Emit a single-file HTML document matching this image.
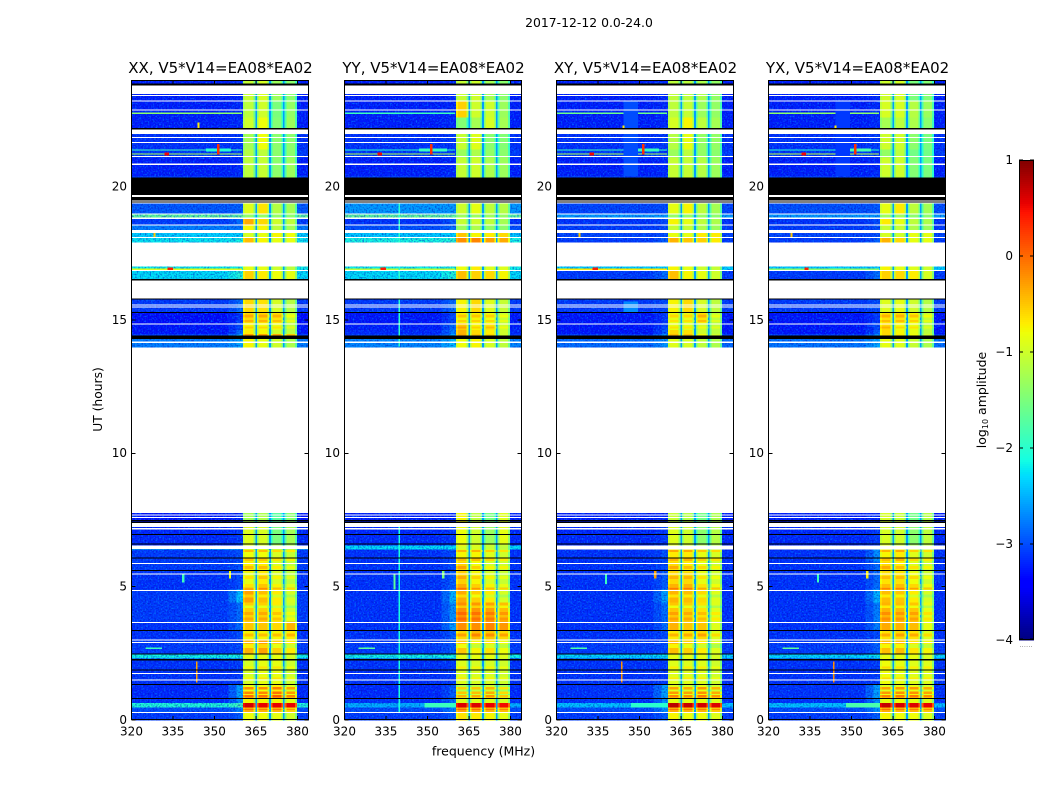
<!DOCTYPE html>
<html lang="en">
<head>
<meta charset="utf-8">
<title>2017-12-12 amplitude waterfall</title>
<style>
html,body{margin:0;padding:0;background:#fff;}
svg{display:block;}
text{font-family:"DejaVu Sans","Liberation Sans",sans-serif;fill:#000;}
</style>
</head>
<body>
<svg id="figure" xmlns="http://www.w3.org/2000/svg" width="1050" height="800" viewBox="0 0 1050 800">
<defs>
<filter id="speck" x="0" y="0" width="1" height="1" color-interpolation-filters="sRGB">
<feTurbulence type="fractalNoise" baseFrequency="0.62" numOctaves="1" seed="4" result="n"/>
<feColorMatrix in="n" type="matrix" values="0 0 0 0 0  0 0 0 0 0.6  0 0 0 0 1  2.0 0 0 0 -0.95" result="a"/>
<feComposite in="a" in2="SourceAlpha" operator="in" result="b"/>
<feColorMatrix in="n" type="matrix" values="0 0 0 0 0  0 0 0 0 0.02  0 0 0 0 0.72  0 1.6 0 0 -0.72" result="c"/>
<feComposite in="c" in2="SourceAlpha" operator="in" result="d"/>
<feMerge><feMergeNode in="SourceGraphic"/><feMergeNode in="b"/><feMergeNode in="d"/></feMerge>
</filter>
</defs>
<text x="589" y="27" font-size="12.4" text-anchor="middle">2017-12-12 0.0-24.0</text>
<text x="483.5" y="755.5" font-size="12.5" text-anchor="middle">frequency (MHz)</text>
<text transform="translate(102,399.5) rotate(-90)" font-size="12.3" text-anchor="middle">UT (hours)</text>
<text transform="translate(986,400) rotate(-90)" font-size="12.5" text-anchor="middle">log<tspan font-size="8" dy="2">10</tspan><tspan dy="-2"> amplitude</tspan></text>
<text x="1026" y="647" font-size="7" fill="#888" text-anchor="middle" style="fill:#888">......</text>
</svg>
<script>
const panelTitles = ["XX, V5*V14=EA08*EA02","YY, V5*V14=EA08*EA02","XY, V5*V14=EA08*EA02","YX, V5*V14=EA08*EA02"];
const xTicks = [320,335,350,365,380];
const yTicks = [0,5,10,15,20];
const colorbarTicks = [1,0,-1,-2,-3,-4];

// Frequency bins (MHz) and which level column each uses: 0 bg, 1 ramp, 2-5 sub-bands, 6 notch
const freqEdges = [320,352,355,358,360.3,361,364.2,364.8,365.4,366,369.1,369.7,370.4,371,374.2,374.8,375.4,376,379.2,379.8,384];
const freqColumn = [0,0,1,1,2,2,2,6,3,3,3,6,4,4,4,6,5,5,5,0];
const freqOffset = [0,0,0.4,0.9,-0.15,0,-0.5,0,-0.5,0,-0.5,0,-0.5,0,-0.5,0,-0.5,0,-0.5,0];
const notchLevel = -2.6;

// Time blocks (hours)
const blockTop =    [24,23.2,22.6,22.14,21.4,21.1,20.4,19.4,18.96,18.84,18.56,18.3,18.1,17.0,16.84,15.8,15.3,14.88,14.62,14.48,14.4,14.3,7.76,7.25,6.6,6.54,6.4,5.95,5.55,4.9,4.4,3.7,3.36,3.0,2.5,2.3,1.35,0.83,0.63,0.46,0.28];
const blockBottom = [23.2,22.6,22.14,21.4,21.1,20.4,19.4,18.96,18.84,18.56,18.3,18.1,17.9,16.84,16.5,15.3,14.88,14.62,14.48,14.4,14.3,13.96,7.25,6.6,6.54,6.4,5.95,5.55,4.9,4.4,3.7,3.36,3.0,2.5,2.3,1.35,0.83,0.63,0.46,0.28,0];

// Each row: [background, ramp, band1, band2, band3, band4]
const levelsXX = [
[-3.25,-3.2,-1.05,-.95,-1.3,-1.4],[-3.25,-3.2,-1.1,-1.0,-1.5,-1.35],[-3.25,-3.2,-1.0,-.8,-1.45,-1.3],
[-3.15,-3.1,-1.25,-.8,-1.4,-1.4],[-3.1,-3.1,-1.15,-1.1,-1.4,-1.4],[-3.25,-3.2,-1.1,-1.05,-1.4,-1.3],
[-3.1,-3.1,-1.1,-1,-1.3,-1.3],[-2.95,-2.9,-.9,-.65,-1.15,-1.25],[-1.65,-1.65,-1.35,-1.35,-1.35,-1.4],
[-3.1,-2.8,-.35,-.6,-1.0,-1.1],[-2.75,-2.8,-.75,-.75,-1.1,-1.25],[-2.3,-2.3,-.95,-.85,-.75,-.8],[-2.2,-2.1,-.45,-.75,-.85,-.85],
[-2.15,-2.1,-.85,-.85,-1.0,-1.1],[-2.25,-2.0,-.55,-.7,-.8,-.85],
[-3.1,-2.8,-.6,-.65,-.95,-1.15],[-3.35,-3.1,-.6,-.6,-.65,-1.05],[-3.3,-3.0,-.75,-.8,-.85,-1.1],
[-3.3,-2.8,-.7,-.75,-1.0,-1.1],[-3.1,-2.4,-.3,-.3,-.35,-.5],[-3.1,-2.9,-.85,-.85,-1.1,-1.1],[-2.75,-2.5,-.75,-.85,-1.0,-1.2],
[-3.3,-3.2,-1.25,-1.2,-1.7,-1.4],[-3.2,-3.1,-.9,-.95,-1.5,-1.25],[-3.2,-3.1,-.9,-.95,-1.2,-1.2],
[-2.25,-2.25,-1,-1,-1.1,-1.2],[-3.1,-3.0,-.8,-.8,-.95,-1.05],[-3.1,-3.0,-.7,-.7,-.95,-1.1],
[-3.15,-3.0,-.85,-.7,-.95,-1.1],[-3.1,-2.3,-.3,-.45,-.7,-.95],[-3.1,-2.8,-.55,-.55,-.7,-1.0],[-3.15,-2.8,-.5,-.5,-.6,-.4],
[-3.15,-3.0,-.75,-.75,-.75,-.7],[-3.1,-3.0,-.4,-.3,-.55,-.7],[-2.15,-2.1,-.85,-.85,-.85,-.95],[-3.15,-3.1,-.95,-.85,-.85,-1.0],
[-3.2,-2.5,-.5,-.5,-.4,-.6],[-3.15,-2.6,-.75,-.75,-.75,-.85],[-2.05,-1.8,.65,.55,.55,.55],[-3.0,-2.7,-.35,-.4,-.4,-.55],[-3.1,-2.9,-.8,-.8,-.85,-1.0]
];
const levelsYY = [
[-3.25,-3.2,-1.05,-1.0,-1.25,-1.4],[-3.25,-3.2,-.55,-1.0,-1.0,-1.3],[-3.25,-3.2,-1.45,-1.25,-.95,-1.25],
[-3.15,-3.1,-1.05,-.9,-1.4,-1.45],[-3.1,-3.1,-1.3,-1.2,-1.35,-1.4],[-3.25,-3.2,-1.05,-1.0,-1.2,-1.3],
[-3.1,-3.1,-1.05,-1,-1.2,-1.3],[-2.6,-2.6,-1,-.85,-1.1,-1.15],[-1.65,-1.65,-1.3,-1.3,-1.3,-1.35],
[-3.15,-2.9,-1.05,-1.0,-1.1,-1.25],[-3.0,-2.8,-1.3,-1.2,-1.35,-1.4],[-2.35,-2.3,-.5,-.75,-.7,-.6],[-2.1,-2.0,-.2,-.15,-.3,-.35],
[-2.15,-2.1,-.8,-.7,-.9,-.9],[-2.25,-2.0,-.45,-.55,-.6,-.75],
[-3.1,-2.8,-.75,-.6,-.9,-1.05],[-3.3,-3.0,-.75,-.75,-.8,-1.05],[-3.25,-2.8,-.5,-.75,-.65,-1.0],
[-3.2,-2.7,-.4,-.6,-.7,-1.0],[-3.1,-2.5,-.35,-.5,-.6,-1.0],[-3.1,-2.9,-.85,-.85,-1.1,-1.1],[-2.7,-2.4,-.8,-.75,-.95,-1.1],
[-3.25,-3.2,-.75,-1.1,-1.5,-.9],[-3.2,-3.1,-.8,-1.0,-1.3,-.85],[-3.2,-3.1,-.7,-.85,-1.0,-1.0],
[-2.25,-2.25,-.95,-.95,-1.05,-1.1],[-3.15,-3.0,-.75,-.75,-.9,-1.0],[-3.15,-3.0,-.55,-.8,-1.0,-1.0],
[-3.15,-2.9,-.55,-.75,-.95,-1.05],[-3.15,-2.4,-.35,-.55,-.7,-.95],[-3.15,-2.6,-.2,-.25,-.3,-.45],[-3.15,-2.5,-.2,-.2,-.15,-.25],
[-3.15,-2.9,-.6,-.45,-.5,-.6],[-3.1,-2.9,-.5,-.75,-.65,-.8],[-2.15,-2.1,-.85,-.85,-.85,-.9],[-3.15,-3.1,-.9,-.95,-.95,-1.0],
[-3.2,-2.9,-.85,-.8,-.7,-.95],[-3.15,-2.8,-.9,-.9,-.9,-.95],[-2.5,-1.9,.6,.6,.55,.5],[-3.0,-2.7,-.3,-.35,-.4,-.45],[-3.1,-2.9,-.65,-.7,-.75,-.85]
];
const levelsXY = [
[-3.25,-3.2,-1.1,-1.1,-1.2,-1.35],[-3.25,-3.2,-1.1,-1.05,-1.3,-1.35],[-3.25,-3.2,-.95,-.75,-1.1,-1.25],
[-3.15,-3.1,-1.15,-.85,-1.35,-1.35],[-3.1,-3.1,-1.3,-1.1,-1.35,-1.4],[-3.25,-3.2,-1.05,-1.05,-1.15,-1.3],
[-3.1,-3.1,-1.05,-1,-1.2,-1.3],[-3.05,-3.0,-.85,-.75,-1.1,-1.25],[-2.6,-2.6,-1.35,-1.35,-1.35,-1.4],
[-3.15,-3.0,-.75,-.85,-1.1,-1.2],[-3.1,-3.0,-1.05,-1.05,-1.2,-1.3],[-3.05,-3.0,-.85,-.85,-.7,-.7],[-3.1,-2.9,-.4,-.5,-.55,-.7],
[-2.3,-2.3,-.75,-.85,-1.0,-1.05],[-3.1,-2.8,-.45,-.75,-.85,-1.0],
[-3.1,-3.0,-.75,-.6,-.95,-1.1],[-3.3,-3.1,-.85,-.85,-.65,-1.1],[-3.3,-3.0,-.85,-.9,-1.0,-1.1],
[-3.3,-2.9,-.6,-.65,-1.0,-1.1],[-3.1,-2.6,-.45,-.5,-.8,-1.0],[-3.1,-2.9,-.85,-.85,-1.1,-1.1],[-2.85,-2.6,-.9,-.95,-1.1,-1.2],
[-3.25,-3.2,-1.05,-1.15,-1.55,-1.2],[-3.2,-3.1,-.9,-1.0,-1.4,-1.15],[-3.2,-3.1,-.9,-1.0,-1.2,-1.15],
[-3.15,-3.1,-1,-1,-1.1,-1.2],[-3.15,-3.0,-.7,-.7,-.85,-.95],[-3.15,-3.0,-.6,-.7,-.85,-1.0],
[-3.15,-2.9,-.6,-.6,-.85,-1.0],[-3.15,-2.5,-.4,-.45,-.6,-.9],[-3.15,-2.8,-.5,-.55,-.65,-.9],[-3.15,-2.8,-.4,-.5,-.5,-.9],
[-3.15,-3.0,-.7,-.65,-.6,-.9],[-3.1,-3.0,-.45,-.55,-.7,-.9],[-2.3,-2.2,-.85,-.85,-.85,-.95],[-3.15,-3.1,-.9,-.9,-.9,-1.0],
[-3.15,-2.5,-.6,-.65,-.55,-.7],[-3.15,-2.6,-.85,-.85,-.85,-.9],[-2.4,-1.9,.75,.7,.65,.6],[-3.0,-2.6,-.35,-.4,-.4,-.5],[-3.1,-2.9,-.75,-.8,-.8,-.9]
];
const levelsYX = [
[-3.25,-3.2,-1.0,-.95,-1.5,-1.45],[-3.25,-3.2,-.95,-.95,-1.15,-1.3],[-3.25,-3.2,-1.25,-1.1,-1.2,-1.4],
[-3.15,-3.1,-1.0,-1.0,-1.4,-1.5],[-3.1,-3.1,-1.35,-1.1,-1.55,-1.55],[-3.25,-3.2,-1.0,-1.0,-1.45,-1.5],
[-3.1,-3.1,-1.1,-1.05,-1.5,-1.5],[-3.0,-2.95,-.85,-.7,-1.1,-1.25],[-2.6,-2.6,-1.3,-1.3,-1.4,-1.4],
[-3.15,-3.0,-.7,-.85,-1.1,-1.2],[-3.1,-3.0,-1.05,-1.05,-1.2,-1.3],[-3.05,-3.0,-.95,-1.0,-.85,-.85],[-3.1,-2.9,-.4,-.6,-.85,-.85],
[-2.3,-2.3,-.75,-.85,-.9,-1.0],[-3.1,-2.8,-.55,-.6,-.7,-.95],
[-3.1,-3.0,-.9,-.85,-1.0,-1.15],[-3.3,-3.1,-.65,-.65,-.75,-1.05],[-3.3,-3.0,-.6,-.8,-.85,-1.1],
[-3.3,-2.9,-.6,-.75,-.85,-1.1],[-3.1,-2.6,-.6,-.7,-.8,-1.0],[-3.1,-2.9,-.85,-.85,-1.1,-1.1],[-2.8,-2.5,-.85,-.9,-1.05,-1.2],
[-3.25,-3.2,-.95,-1.05,-1.55,-1.15],[-3.2,-3.1,-.95,-1.0,-1.4,-1.1],[-3.2,-3.1,-.9,-1.0,-1.25,-1.1],
[-3.15,-3.0,-1,-1,-1.1,-1.2],[-3.15,-2.6,-.75,-.7,-.9,-1.0],[-3.15,-2.8,-.6,-.7,-.9,-1.0],
[-3.15,-2.8,-.65,-.65,-.8,-1.0],[-3.15,-2.4,-.45,-.5,-.7,-.95],[-3.15,-2.7,-.4,-.45,-.5,-.85],[-3.15,-2.7,-.35,-.4,-.45,-.85],
[-3.15,-3.0,-.65,-.6,-.65,-.9],[-3.1,-2.9,-.45,-.45,-.65,-.75],[-2.3,-2.2,-.85,-.85,-.85,-.95],[-3.15,-3.1,-.8,-.85,-.9,-.9],
[-3.15,-2.5,-.6,-.55,-.55,-.65],[-3.15,-2.6,-.85,-.8,-.85,-.9],[-2.4,-1.8,.7,.65,.6,.55],[-3.0,-2.6,-.35,-.4,-.4,-.5],[-3.1,-2.9,-.75,-.8,-.8,-.9]
];
const panelLevels = [levelsXX, levelsYY, levelsXY, levelsYX];

// Horizontal stripes inside the bright band: [top hour, bottom hour, change in log amplitude]
const bandStripes = [
[15.2,15.1,.25],[15.0,14.94,.2],[14.75,14.7,.2],
[6.38,6.32,.35],[6.05,5.98,.3],[5.78,5.68,.25],[5.4,5.3,.2],[5.1,5.0,.2],[4.96,4.9,.5],
[4.7,4.6,-.25],[4.3,4.22,-.3],[4.05,3.95,.2],[3.85,3.75,.2],[3.25,3.15,.3],[2.85,2.72,-.3],
[2.0,1.95,.2],[1.6,1.55,.2],[1.31,1.23,-.3],[1.23,1.15,.3],[1.15,1.06,-.3],[1.06,.98,.35],[.98,.93,-.2],[.93,.85,.45],[.42,.38,.3]
];

// Flagged rows drawn white / black, as [top hour, bottom hour]
const whiteRows = [[23.786,23.475],[23.44,23.4],[23.23,23.186],[22.894,22.856],[22.144,21.975],[21.863,21.825],[21.675,21.638],[21.15,21.11],[20.869,20.813],[19.688,19.613],[19.474,19.36],[18.994,18.956],[18.844,18.788],[18.581,18.544],[18.375,18.263],[18.113,18.075],[16.875,16.845],[15.589,15.551],[15.499,15.461],[14.876,14.839],[14.186,14.138],[7.699,7.661],[7.613,7.575],[7.388,7.238],[7.2,7.151],[5.888,5.85],[5.486,5.449],[4.875,4.838],[3.675,3.638],[3.026,2.989],[2.925,2.888],[1.763,1.725],[1.526,1.489],[0.3,0.263]];
const blackRows = [[23.876,23.786],[22.2,22.144],[20.336,19.688],[19.613,19.474],[19.44,19.41],[16.538,16.474],[15.799,15.761],[15.3,15.27],[14.411,14.288],[7.5,7.451],[7.425,7.388],[6.975,6.938],[6.626,6.589],[6.101,6.064],[5.625,5.588],[3.375,3.338],[2.501,2.464],[2.288,2.224],[1.901,1.864],[1.35,1.313],[0.825,0.788]];
const emptyRows = [[17.9,17.0],[16.474,15.799],[13.96,7.76]];
// Panel-only white rows [panel, top, bottom]
const panelWhiteRows = [[0,6.54,6.41],[2,6.54,6.4],[3,6.54,6.4]];

// Narrow features: [panel, top hour, bottom hour, start MHz, end MHz, log amplitude]
const features = [
[0,22.79,22.73,320,360,-1.4],[1,22.79,22.73,320,360,-1.9],[2,22.79,22.73,320,360,-1.6],[3,22.79,22.73,320,360,-1.4],
[0,21.4,21.35,320,360,-1.9],[1,21.4,21.35,320,360,-2.0],[2,21.4,21.35,320,360,-1.9],[3,21.4,21.35,320,360,-2.0],
[0,21.25,21.2,320,360,-1.2],[1,21.25,21.2,320,360,-1.2],[2,21.25,21.2,320,360,-1.2],[3,21.25,21.2,320,360,-1.1],
[0,21.44,21.32,347,356,-2.0],[1,21.44,21.32,347,357,-1.9],[2,21.44,21.32,347,357,-1.9],[3,21.44,21.32,346,357,-1.8],
[0,21.6,21.2,351,351.9,.3],[1,21.6,21.2,351,351.9,.3],[2,21.6,21.2,351,351.9,.3],[3,21.6,21.2,351,351.9,.3],
[0,21.28,21.16,332,333.5,.5],[1,21.28,21.16,332,333.5,.5],[2,21.28,21.16,332,333.5,.5],[3,21.28,21.16,332,333.5,.5],
[0,16.94,16.87,320,360,-.9],[1,16.94,16.87,320,360,-1.1],[2,16.94,16.87,320,360,-.7],[3,16.94,16.87,320,360,-1.4],
[0,16.96,16.86,333,335,.4],[1,16.96,16.86,333,335,.4],[2,16.96,16.86,333,335,.4],[3,16.96,16.86,333,334.5,.4],
[0,18.3,18.12,328,328.6,-.5],[2,18.3,18.12,328,328.6,-.5],[3,18.3,18.12,328,328.6,-.5],
[1,19.4,14.0,339.6,340,-2.0],[1,7.3,0.3,339.6,340,-2.1],
[2,23.2,20.4,344.3,349.5,-3.0],[3,23.2,20.4,344.3,349.5,-3.1],[2,15.7,15.3,344.3,349.5,-2.7],
[0,5.45,5.15,338.2,339.2,-1.9],[2,5.5,5.1,337.5,338.3,-1.9],[3,5.45,5.15,337.5,338.3,-1.9],[1,5.5,4.9,337.8,338.4,-1.7],
[0,5.6,5.3,355.2,356,-.8],[2,5.6,5.3,355.3,356.1,-.3],[3,5.6,5.3,355.3,356.1,-.7],[1,5.6,5.3,355.3,356.1,-1.5],
[0,2.72,2.67,325,331,-1.9],[1,2.72,2.67,325,331,-1.7],[2,2.72,2.67,325,331,-1.8],[3,2.72,2.67,325,331,-1.7],
[0,2.2,1.4,343.4,343.8,-.3],[2,2.2,1.4,343.4,343.8,-.2],[3,2.2,1.4,343.4,343.8,-.2],
[1,.63,.46,349,360.3,-1.9],[2,.63,.46,347,360.3,-2.0],[3,.63,.46,348,360.3,-1.8],
[2,22.3,22.2,343.8,344.5,-.7],[3,22.3,22.2,343.8,344.5,-.7],[0,22.4,22.2,343.8,344.5,-.7]
];

const SVGNS = "http://www.w3.org/2000/svg";
const fig = document.getElementById("figure");
const panelLeft = [131.5,344.5,556.5,768.5];
const plotWidth = 177, plotTop = 80, plotHeight = 640;
const fMin = 320, fMax = 384, hMin = 0, hMax = 24;

function xScale(f, p){ return panelLeft[p] + (f - fMin) / (fMax - fMin) * plotWidth; }
function yScale(h){ return plotTop + (hMax - h) / (hMax - hMin) * plotHeight; }

function jet(v){
  const t = Math.max(0, Math.min(1, (v + 4) / 5));
  const r = t < .35 ? 0 : t < .66 ? (t - .35) / .31 : t < .89 ? 1 : 1 - (t - .89) / .11 * .5;
  const g = t < .125 ? 0 : t < .375 ? (t - .125) / .25 : t < .64 ? 1 : t < .91 ? 1 - (t - .64) / .27 : 0;
  const b = t < .11 ? .5 + t / .11 * .5 : t < .34 ? 1 : t < .65 ? 1 - (t - .34) / .31 : 0;
  return "rgb(" + Math.round(r * 255) + "," + Math.round(g * 255) + "," + Math.round(b * 255) + ")";
}
function mk(tag, attrs, parent){
  const el = document.createElementNS(SVGNS, tag);
  for (const k in attrs) el.setAttribute(k, attrs[k]);
  (parent || fig).appendChild(el);
  return el;
}
function rowRect(g, p, top, bottom, fill){
  const el = mk("rect", {x: panelLeft[p], y: yScale(top), width: plotWidth, height: Math.max(1, yScale(bottom) - yScale(top)), fill: fill}, g);
  return el;
}

panelTitles.forEach(function(title, p){
  const panel = mk("g", {});
  
  
  const noisy = mk("g", {filter: "url(#speck)", "shape-rendering": "crispEdges"}, panel);
  
  
  const band = mk("g", {"shape-rendering": "crispEdges"}, panel);
  
  
  const levels = panelLevels[p];
  blockTop.forEach(function(top, b){
    const row = levels[b];
    for (let c = 0; c < freqColumn.length; c++) {
      const col = freqColumn[c];
      let v;
      if (col === 6) v = notchLevel;
      else if (col === 1) v = row[0] + (row[1] - row[0]) * freqOffset[c];
      else if (col === 0) v = row[0];
      else v = row[col] + freqOffset[c];
      const x0 = xScale(freqEdges[c], p), x1 = xScale(freqEdges[c + 1], p);
      const cell = mk("rect", {x: x0, y: yScale(top), width: x1 - x0 + .3, height: yScale(blockBottom[b]) - yScale(top) + .3, fill: jet(v)}, (col <= 1) ? noisy : band);
      
      
    }
  });
  bandStripes.forEach(function(s){
    let b = blockTop.findIndex(function(top, i){ return top >= s[0] && blockBottom[i] < s[0]; });
    if (b < 0) return;
    const row = levels[b];
    for (let c = 0; c < freqColumn.length; c++) {
      const col = freqColumn[c];
      if (col < 2 || col > 5) continue;
      const x0 = xScale(freqEdges[c], p), x1 = xScale(freqEdges[c + 1], p);
      const cell = mk("rect", {x: x0, y: yScale(s[0]), width: x1 - x0 + .3, height: yScale(s[1]) - yScale(s[0]) + .3, fill: jet(row[col] + freqOffset[c] + s[2])}, band);
      
      
    }
  });
  features.forEach(function(f){
    if (f[0] !== p) return;
    const r = mk("rect", {x: xScale(f[3], p), y: yScale(f[1]), width: Math.max(1, xScale(f[4], p) - xScale(f[3], p)), height: Math.max(1, yScale(f[2]) - yScale(f[1])), fill: jet(f[5]), "shape-rendering": "crispEdges"}, panel);
    
    
  });
  const masks = mk("g", {"shape-rendering": "crispEdges"}, panel);
  
  
  whiteRows.forEach(function(r){ rowRect(masks, p, r[0], r[1], "#fff"); });
  emptyRows.forEach(function(r){ rowRect(masks, p, r[0], r[1], "#fff"); });
  panelWhiteRows.forEach(function(r){ if (r[0] === p) rowRect(masks, p, r[1], r[2], "#fff"); });
  blackRows.forEach(function(r){ rowRect(masks, p, r[0], r[1], "#000"); });

  const frame = mk("rect", {x: panelLeft[p], y: 80.5, width: plotWidth, height: 639, fill: "none", stroke: "#000", "stroke-width": 1, "shape-rendering": "crispEdges"}, panel);
  
  

  xTicks.forEach(function(t){
    const x = xScale(t, p);
    const a = mk("line", {x1: x, x2: x, y1: 720, y2: 716, stroke: "#000", "shape-rendering": "crispEdges"}, panel);
    
    
    const c = mk("line", {x1: x, x2: x, y1: 80, y2: 84, stroke: "#000", "shape-rendering": "crispEdges"}, panel);
    
    
    const l = mk("text", {x: x, y: 735.5, "font-size": 12, "text-anchor": "middle"}, panel);
    
    
    l.textContent = t;
  });
  yTicks.forEach(function(t){
    const y = yScale(t);
    const a = mk("line", {x1: panelLeft[p], x2: panelLeft[p] + 4, y1: y, y2: y, stroke: "#000", "shape-rendering": "crispEdges"}, panel);
    
    
    const c = mk("line", {x1: panelLeft[p] + plotWidth, x2: panelLeft[p] + plotWidth - 4, y1: y, y2: y, stroke: "#000", "shape-rendering": "crispEdges"}, panel);
    
    
    const l = mk("text", {x: panelLeft[p] - 4.5, y: y + 3.8, "font-size": 12, "text-anchor": "end"}, panel);
    
    
    l.textContent = t;
  });
  const tt = mk("text", {x: panelLeft[p] + 89, y: 73, "font-size": 15, "text-anchor": "middle"}, panel);
  
  
  tt.textContent = title;
});

// Colorbar
const cbar = mk("g", {"shape-rendering": "crispEdges"});


const cbTop = 160, cbH = 480, cbLeft = 1019, cbW = 15;
function cbScale(v){ return cbTop + (1 - v) / 5 * cbH; }
for (let i = 0; i < 240; i++) {
  const v0 = 1 - i * 5 / 240;
  const s = mk("rect", {x: cbLeft, y: cbScale(v0), width: cbW, height: 2.4, fill: jet(v0 - 5 / 480)}, cbar);
  
  
}
const cbf = mk("rect", {x: cbLeft + .5, y: cbTop + .5, width: cbW - 1, height: cbH - 1, fill: "none", stroke: "#000"}, cbar);


colorbarTicks.forEach(function(t){
  const y = Math.min(cbTop + cbH - 1, cbScale(t));
  const a = mk("line", {x1: cbLeft, x2: cbLeft + 4, y1: y, y2: y, stroke: "#000"}, cbar);
  
  
  const b = mk("line", {x1: cbLeft + cbW, x2: cbLeft + cbW - 4, y1: y, y2: y, stroke: "#000"}, cbar);
  
  
  const l = mk("text", {x: 1013, y: cbScale(t) + 4, "font-size": 12, "text-anchor": "end"});
  
  
  l.textContent = String(t).replace("-", "\u2212");
});
</script>
</body>
</html>
